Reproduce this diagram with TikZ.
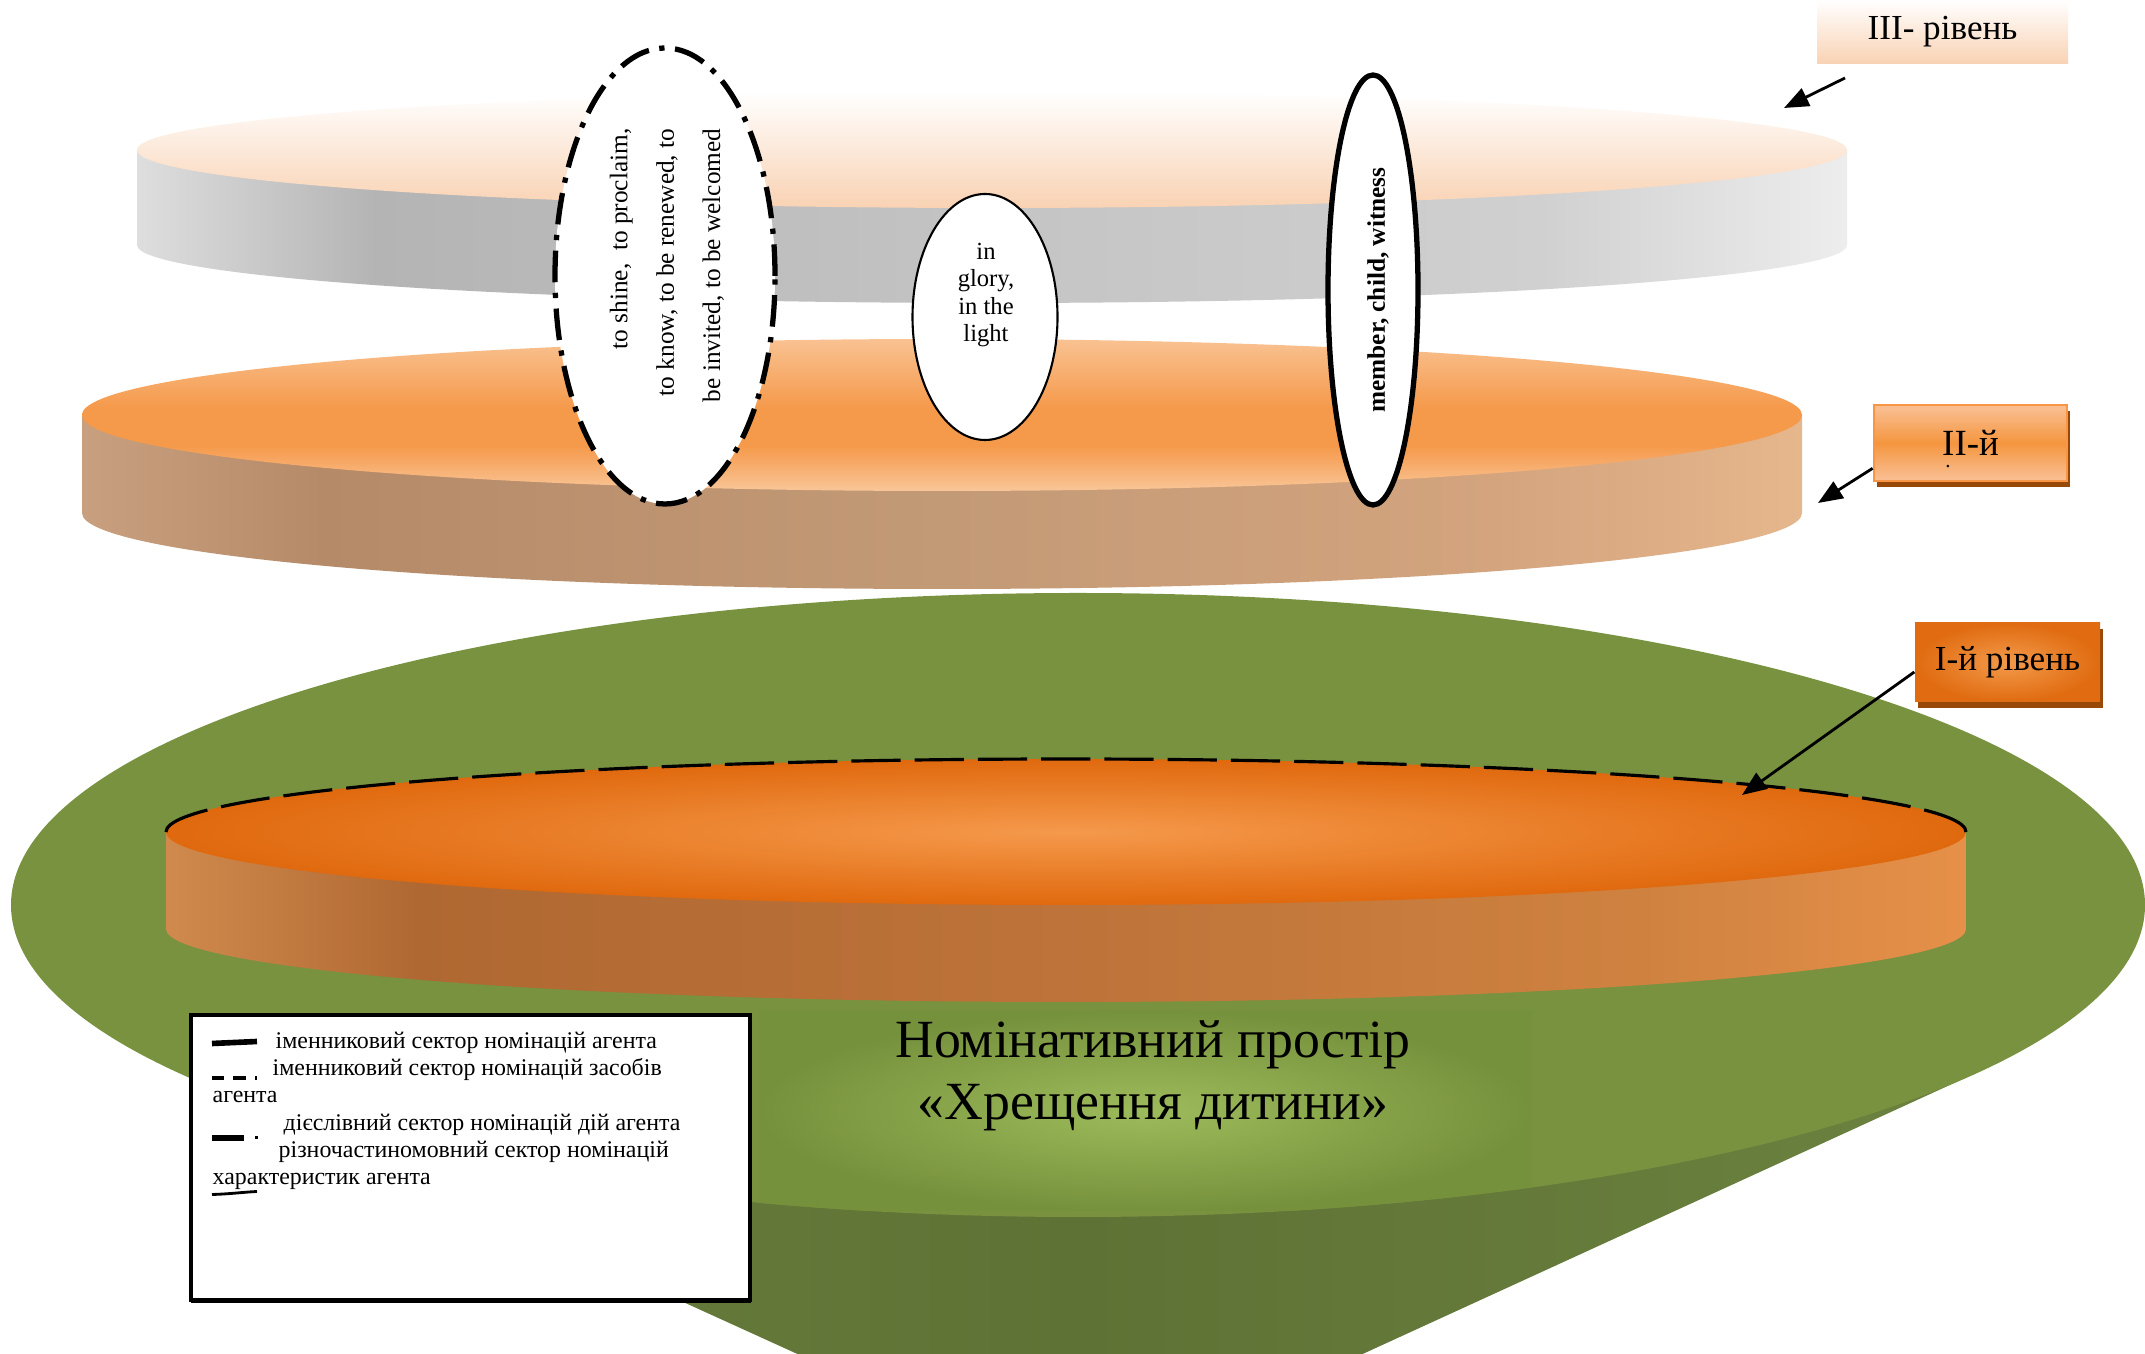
\documentclass[tikz,border=0pt]{standalone}
\usepackage{fontspec}
\setmainfont{Liberation Serif}
\usetikzlibrary{arrows.meta,shapes.geometric,shadows}

\definecolor{grn}{HTML}{78923F}
\definecolor{conea}{HTML}{6A813E}
\definecolor{coneb}{HTML}{5E7235}
\definecolor{conec}{HTML}{6B823F}
\definecolor{glowin}{HTML}{9DBB5B}
\definecolor{glowout}{HTML}{76913C}
\definecolor{s3a}{HTML}{DEDEDE}
\definecolor{s3b}{HTML}{B4B4B4}
\definecolor{s3c}{HTML}{C4C4C4}
\definecolor{s3d}{HTML}{D0D0D0}
\definecolor{s3e}{HTML}{EDEDED}
\definecolor{d3b}{HTML}{F9D2B3}
\definecolor{s2a}{HTML}{C9A07F}
\definecolor{s2b}{HTML}{B58A69}
\definecolor{s2c}{HTML}{C39A76}
\definecolor{s2d}{HTML}{D3A47E}
\definecolor{s2e}{HTML}{E6B68C}
\definecolor{d2t}{HTML}{F9C292}
\definecolor{d2m}{HTML}{F5994A}
\definecolor{d2b}{HTML}{F9C698}
\definecolor{s1a}{HTML}{D08A4D}
\definecolor{s1b}{HTML}{B06832}
\definecolor{s1c}{HTML}{BD7339}
\definecolor{s1d}{HTML}{CF8240}
\definecolor{s1e}{HTML}{E69049}
\definecolor{d1in}{HTML}{F5994B}
\definecolor{d1out}{HTML}{E0690E}
\definecolor{l2t}{HTML}{F9BD8F}
\definecolor{l2m}{HTML}{F5963F}
\definecolor{orng}{HTML}{F79646}
\definecolor{shad}{HTML}{984807}
\definecolor{l1in}{HTML}{F39A4B}
\definecolor{l1out}{HTML}{E06B10}

\pgfdeclarehorizontalshading{sideIII}{100bp}{color(0bp)=(s3a); color(25bp)=(s3a); color(32bp)=(s3b); color(50bp)=(s3c); color(66bp)=(s3d); color(75bp)=(s3e); color(100bp)=(s3e)}
\pgfdeclarehorizontalshading{sideII}{100bp}{color(0bp)=(s2a); color(25bp)=(s2a); color(32bp)=(s2b); color(50bp)=(s2c); color(66bp)=(s2d); color(75bp)=(s2e); color(100bp)=(s2e)}
\pgfdeclarehorizontalshading{sideI}{100bp}{color(0bp)=(s1a); color(25bp)=(s1a); color(32bp)=(s1b); color(50bp)=(s1c); color(66bp)=(s1d); color(75bp)=(s1e); color(100bp)=(s1e)}
\pgfdeclareverticalshading{topII}{100bp}{color(0bp)=(d2b); color(25bp)=(d2b); color(40bp)=(d2m); color(52bp)=(d2m); color(75bp)=(d2t); color(100bp)=(d2t)}
\pgfdeclareverticalshading{boxII}{100bp}{color(0bp)=(l2t); color(27bp)=(l2t); color(50bp)=(l2m); color(73bp)=(l2t); color(100bp)=(l2t)}

\tikzset{
  lblbase/.style={inner sep=0pt, font=\fontsize{10}{12}\selectfont, text=black},
  lblthree/.style={lblbase, minimum width=2.51cm, minimum height=0.64cm, top color=white, bottom color=d3b},
  lbltwo/.style={lblbase, font=\fontsize{10.5}{12}\selectfont, minimum width=1.93cm, minimum height=0.76cm, draw=orng, line width=0.8pt,
     shading=boxII,
     drop shadow={shadow xshift=0.9pt, shadow yshift=-1.7pt, fill=shad, opacity=1}},
  lblone/.style={lblbase, minimum width=1.85cm, minimum height=0.79cm, inner color=l1in, outer color=l1out,
     drop shadow={shadow xshift=0.9pt, shadow yshift=-1.7pt, fill=shad, opacity=1}},
  arr/.style={line width=0.8pt, -{Triangle[length=7pt,width=5.5pt]}},
  ovalbox/.style={ellipse, fill=white, inner sep=0pt},
  smalltxt/.style={inner sep=0pt, font=\fontsize{7.2}{13.2}\selectfont},
  legtxt/.style={inner sep=0pt, anchor=mid west, font=\fontsize{6.8}{7.8}\selectfont},
}

\begin{document}
\begin{tikzpicture}
\clip (0,0) rectangle (21.45,13.54);
\fill[white] (0,0) rectangle (21.45,13.54);

% funnel (cone + green ellipse)
\shade[left color=conea, right color=conec, middle color=coneb] (1.82,2.80) -- (10.81,-1.29) -- (19.76,2.81) -- cycle;
\fill[grn] (10.78,4.49) ellipse [x radius=10.67, y radius=3.12];
\begin{scope}
  \clip (10.78,4.49) ellipse [x radius=10.67, y radius=3.12];
  \shade[inner color=glowin, outer color=glowout] (7.59,1.43) rectangle (15.32,3.43);
\end{scope}
\node[align=center, inner sep=0pt, font=\fontsize{15.3}{17.5}\selectfont] (title) at (11.53,2.78)
  {Номінативний простір\\«Хрещення дитини»};

% disc I
\shade[shading=sideI] (1.66,5.22) -- (1.66,4.25) arc[start angle=180, end angle=360, x radius=9.00, y radius=0.73] -- (19.66,5.22) -- cycle;
\shade[inner color=d1in, outer color=d1out] (10.66,5.22) ellipse [x radius=9.00, y radius=0.73];
\draw[line width=0.9pt, dash pattern=on 14pt off 4pt] (19.66,5.22) arc[start angle=0, end angle=180, x radius=9.00, y radius=0.73];

% legend
\draw[line width=0.9pt, fill=white] (1.91,0.54) rectangle (7.50,3.39);
\draw[line width=1.4pt] (1.91,0.53) -- (7.51,0.53);
\draw[line width=1.6pt] (2.12,3.105) -- (2.57,3.125);
\node[legtxt] (lg1) at (2.75,3.14) {іменниковий сектор номінацій агента};
\node[legtxt] (lg2) at (2.72,2.87) {іменниковий сектор номінацій засобів};
\draw[line width=0.9pt, dash pattern=on 3.5pt off 2.6pt] (2.12,2.76) -- (2.57,2.76);
\node[legtxt] (lg3) at (2.12,2.60) {агента};
\node[legtxt] (lg4) at (2.83,2.32) {дієслівний сектор номінацій дій агента};
\draw[line width=1.5pt] (2.12,2.16) -- (2.44,2.16);
\fill (2.545,2.145) rectangle (2.58,2.18);
\node[legtxt] (lg5) at (2.78,2.05) {різночастиномовний сектор номінацій};
\node[legtxt] (lg6) at (2.12,1.78) {характеристик агента};
\draw[line width=0.8pt] (2.12,1.595) .. controls (2.3,1.60) and (2.45,1.62) .. (2.57,1.625);

% disc II
\shade[shading=sideII] (0.82,9.39) -- (0.82,8.41) arc[start angle=180, end angle=360, x radius=8.60, y radius=0.76] -- (18.02,9.39) -- cycle;
\shade[shading=topII] (9.42,9.39) ellipse [x radius=8.60, y radius=0.76];

% disc III
\shade[shading=sideIII] (1.37,12.04) -- (1.37,11.09) arc[start angle=180, end angle=360, x radius=8.55, y radius=0.58] -- (18.47,12.04) -- cycle;
\shade[top color=white, bottom color=d3b] (9.92,12.04) ellipse [x radius=8.55, y radius=0.58];

% text ovals
\node[ovalbox, draw, line width=1.5pt, dash pattern=on 9pt off 3pt on 1.5pt off 3pt,
      minimum width=2.2cm, minimum height=4.56cm] (e1) at (6.65,10.78) {};
\node[smalltxt, rotate=90, anchor=east, align=right] (t1) at (6.67,12.26)
  {to shine,\ \ to proclaim,\\to know, to be renewed, to\\be invited, to be welcomed};

\node[ovalbox, draw, line width=0.6pt, minimum width=1.45cm, minimum height=2.46cm] (e2) at (9.85,10.37) {};
\node[inner sep=0pt, align=center, font=\fontsize{7}{7.7}\selectfont] (t2) at (9.86,10.59)
  {in\\glory,\\in the\\light};

\node[ovalbox, draw, line width=1.5pt, minimum width=0.9cm, minimum height=4.3cm] (e3) at (13.73,10.64) {};
\node[smalltxt, rotate=90, font=\fontsize{7.2}{8}\selectfont\bfseries] (t3) at (13.78,10.64)
  {member, child, witness};

% level labels
\node[lblthree] (l3) at (19.425,13.22) {III- рівень};
\coordinate (a3s) at (18.45,12.76);
\coordinate (a3e) at (17.84,12.46);
\draw[arr] (a3s) -- (a3e);

\node[lbltwo] (l2) at (19.705,9.11) {II-й};
\node[inner sep=0pt, font=\fontsize{6}{6}\selectfont] (l2dot) at (19.48,8.87) {.};
\coordinate (a2e) at (18.18,8.51);
\draw[arr] ([yshift=4pt]l2.south west) -- (a2e);

\node[lblone] (l1) at (20.075,6.915) {I-й рівень};
\coordinate (a1e) at (17.42,5.59);
\draw[arr] ([yshift=-2.7pt]l1.west) -- (a1e);
\end{tikzpicture}
\end{document}
